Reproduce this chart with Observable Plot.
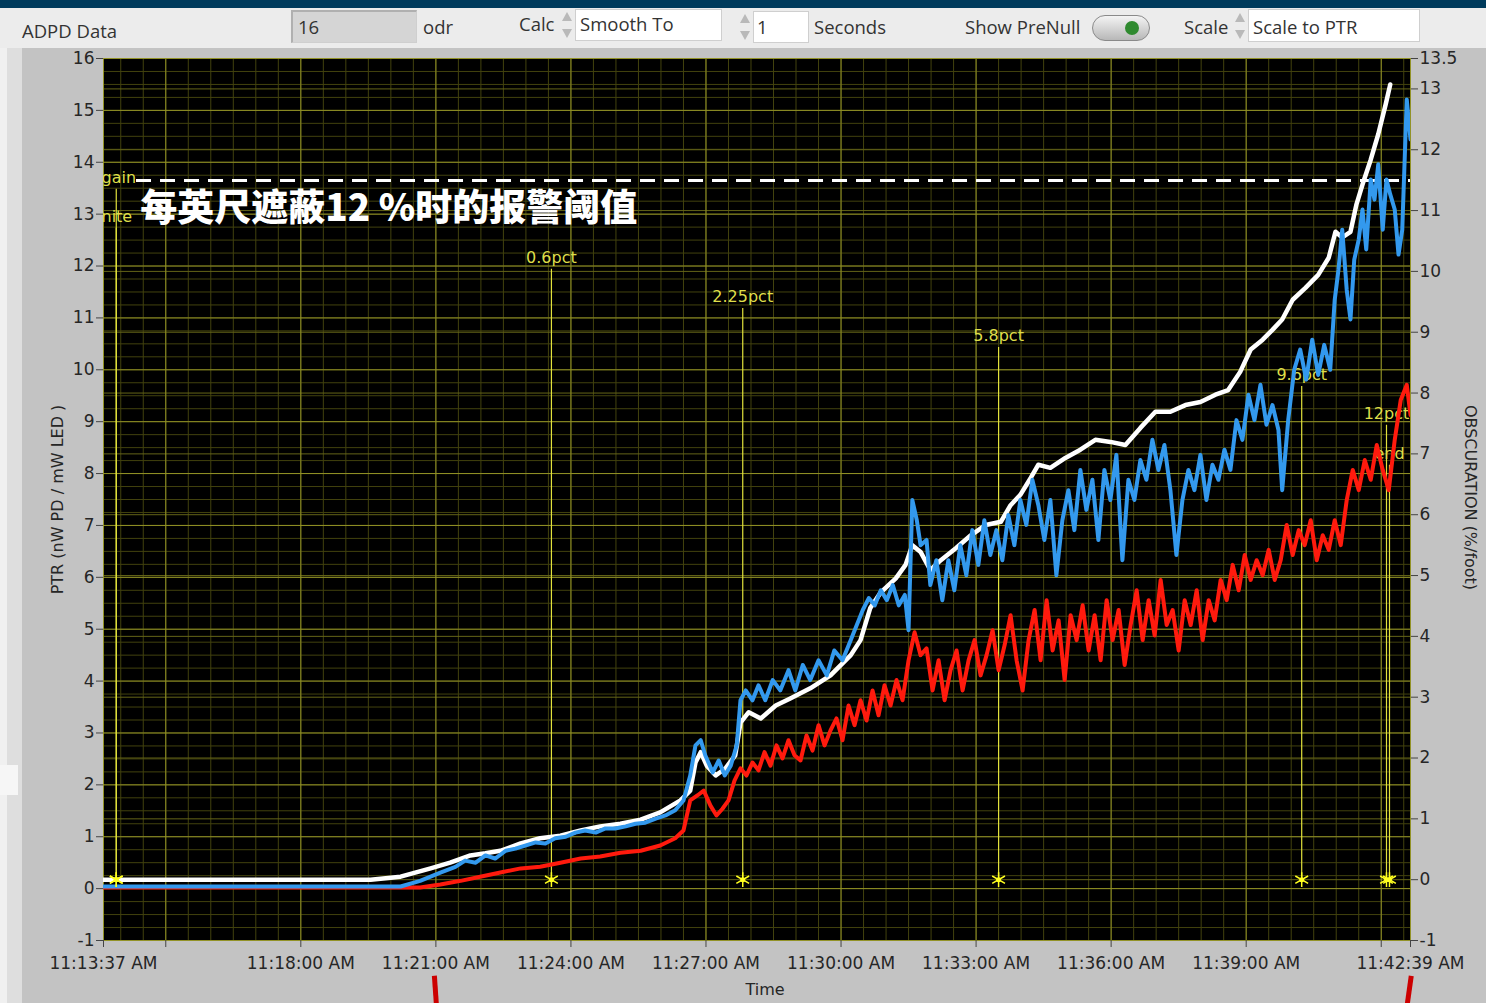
<!DOCTYPE html>
<html>
<head>
<meta charset="utf-8">
<script src="https://cdn.jsdelivr.net/npm/d3@7"></script>
<script src="https://cdn.jsdelivr.net/npm/@observablehq/plot@0.6"></script>
<style>
  body { margin: 0; width: 1486px; height: 1003px; overflow: hidden; background: #c3c3c3; position: relative;
         font-family: "Open Sans", "Noto Sans", sans-serif; }
  #topbar { position: absolute; left: 0; top: 0; width: 1486px; height: 8px; background: #003b5c; }
  #tools { position: absolute; left: 0; top: 8px; width: 1486px; height: 40px; background: #ececec; }
  #side { position: absolute; left: 0; top: 48px; width: 22px; height: 955px;
          background: linear-gradient(to right, #f0f0f0 0 7px, #dedede 7px 22px); }
  #notch { position: absolute; left: 0; top: 765px; width: 18px; height: 30px; background: #f6f6f6; }
  .t { position: absolute; font-size: 18.5px; color: #333; line-height: 1; white-space: nowrap; }
  .box { position: absolute; background: #fff; border: 1px solid #cfcfcf; box-sizing: border-box; }
  .grey { background: #d5d5d5; border-top: 2px solid #b0b0b0; border-left: 2px solid #b0b0b0; }
  .spin { position: absolute; width: 12px; height: 34px; }
  .spin::before, .spin::after { content: ""; position: absolute; left: 1px; width: 0; height: 0;
          border-left: 5px solid transparent; border-right: 5px solid transparent; }
  .spin::before { top: 4px; border-bottom: 9px solid #b9b9b9; }
  .spin::after { bottom: 4px; border-top: 9px solid #b9b9b9; }
  #toggle { position: absolute; left: 1092px; top: 15px; width: 58px; height: 26px; border-radius: 13px;
            background: linear-gradient(#f4f4f4, #b8b8b8); border: 1px solid #8a8a8a; box-sizing: border-box; }
  #toggle::after { content: ""; position: absolute; left: 32px; top: 5px; width: 14px; height: 14px;
            border-radius: 7px; background: #2f8a2f; }
  #chart { position: absolute; left: 0; top: 48px; }
</style>
</head>
<body>
<div id="topbar"></div>
<div id="tools"></div>
<div id="side"></div>
<div id="notch"></div>

<div class="t" style="left:22px;top:22px">ADPD Data</div>
<div class="box grey" style="left:291px;top:10px;width:126px;height:33px"></div>
<div class="t" style="left:298px;top:18px">16</div>
<div class="t" style="left:423px;top:18px">odr</div>
<div class="t" style="left:519px;top:15px">Calc</div>
<div class="spin" style="left:561px;top:8px"></div>
<div class="box" style="left:575px;top:9px;width:147px;height:32px"></div>
<div class="t" style="left:580px;top:15px">Smooth To</div>
<div class="spin" style="left:739px;top:10px"></div>
<div class="box" style="left:753px;top:11px;width:56px;height:32px"></div>
<div class="t" style="left:757px;top:18px">1</div>
<div class="t" style="left:814px;top:18px">Seconds</div>
<div class="t" style="left:965px;top:18px">Show PreNull</div>
<div id="toggle"></div>
<div class="t" style="left:1184px;top:18px">Scale</div>
<div class="spin" style="left:1234px;top:9px"></div>
<div class="box" style="left:1248px;top:9px;width:172px;height:33px"></div>
<div class="t" style="left:1253px;top:18px">Scale to PTR</div>

<div id="chart"></div>

<script>
// ---- recording window (clock time of first and last sample) ----
const startClock = "11:13:37";
const endClock = "11:42:39";

// ---- series: seconds since start, PTR value (nW PD / mW LED) ----
const whiteT = [0, 356, 396, 436, 462, 489, 509, 529, 556, 582, 609, 636, 662, 689, 716, 742, 769, 782, 789, 796,
  804, 816, 829, 842, 849, 860, 876, 896, 916, 942, 969, 996, 1009, 1022, 1036, 1056, 1069, 1078, 1089, 1102,
  1116, 1136, 1156, 1176, 1196, 1209, 1222, 1236, 1246, 1262, 1282, 1302, 1322, 1342, 1362, 1382, 1402, 1422, 1442, 1462,
  1482, 1499, 1515, 1529, 1545, 1558, 1571, 1585, 1602, 1619, 1633, 1642, 1651, 1662, 1670, 1678, 1689, 1699, 1709, 1715];
const whiteV = [0.17, 0.17, 0.23, 0.39, 0.50, 0.64, 0.68, 0.73, 0.87, 0.97, 1.02, 1.12, 1.20, 1.25, 1.33, 1.47, 1.70, 1.89, 2.43, 2.63,
  2.37, 2.18, 2.32, 2.57, 3.20, 3.40, 3.28, 3.53, 3.67, 3.86, 4.11, 4.50, 4.79, 5.41, 5.71, 5.98, 6.24, 6.62, 6.49, 6.14,
  6.33, 6.56, 6.81, 7.01, 7.07, 7.39, 7.59, 7.92, 8.17, 8.11, 8.30, 8.46, 8.65, 8.61, 8.55, 8.88, 9.19, 9.19, 9.32, 9.38,
  9.52, 9.61, 9.96, 10.39, 10.58, 10.77, 10.97, 11.35, 11.58, 11.83, 12.16, 12.66, 12.55, 12.66, 13.19, 13.57, 14.05, 14.54, 15.12, 15.50];

const blueT = [0, 396, 422, 449, 469, 482, 496, 509, 522, 536, 549, 562, 576, 589, 602, 616, 629, 642, 656, 669,
  682, 696, 709, 722, 736, 749, 762, 773, 782, 789, 796, 802, 812, 820, 828, 836, 844, 849, 856, 865,
  873, 882, 892, 902, 913, 922, 932, 942, 953, 964, 974, 985, 996, 1004, 1012, 1020, 1028, 1036, 1044, 1052,
  1060, 1068, 1073, 1078, 1084, 1089, 1097, 1102, 1110, 1118, 1126, 1134, 1142, 1150, 1158, 1166, 1174, 1182, 1190, 1198,
  1206, 1214, 1222, 1230, 1238, 1246, 1254, 1262, 1270, 1278, 1286, 1294, 1302, 1310, 1318, 1326, 1334, 1342, 1350, 1358,
  1366, 1374, 1382, 1390, 1398, 1406, 1414, 1422, 1430, 1438, 1446, 1454, 1462, 1470, 1478, 1486, 1494, 1502, 1510, 1518,
  1526, 1534, 1542, 1550, 1558, 1566, 1571, 1579, 1587, 1595, 1603, 1611, 1619, 1627, 1635, 1641, 1646, 1651, 1657, 1662,
  1667, 1673, 1678, 1683, 1689, 1694, 1699, 1705, 1710, 1715, 1721, 1726, 1731, 1737, 1742];
const blueV = [0.04, 0.04, 0.15, 0.31, 0.42, 0.54, 0.50, 0.64, 0.58, 0.73, 0.77, 0.83, 0.89, 0.87, 0.97, 1.00, 1.08, 1.12, 1.08, 1.16,
  1.16, 1.20, 1.25, 1.27, 1.35, 1.41, 1.51, 1.70, 2.18, 2.76, 2.86, 2.57, 2.24, 2.47, 2.18, 2.37, 2.76, 3.63, 3.82, 3.63,
  3.92, 3.63, 4.02, 3.82, 4.21, 3.82, 4.31, 4.02, 4.40, 4.11, 4.59, 4.40, 4.79, 5.08, 5.37, 5.60, 5.46, 5.75, 5.56, 5.85,
  5.46, 5.66, 4.98, 7.49, 7.10, 6.62, 6.72, 5.85, 6.33, 5.56, 6.33, 5.75, 6.62, 6.04, 6.91, 6.24, 7.10, 6.43, 6.91, 6.33,
  7.20, 6.62, 7.49, 7.01, 7.88, 7.39, 6.72, 7.49, 6.04, 7.10, 7.68, 6.91, 8.07, 7.30, 7.88, 6.72, 8.07, 7.49, 8.36, 6.33,
  7.88, 7.49, 8.26, 7.88, 8.65, 8.07, 8.55, 7.68, 6.43, 7.49, 8.07, 7.68, 8.36, 7.49, 8.17, 7.88, 8.46, 8.07, 9.03, 8.65,
  9.52, 9.03, 9.71, 8.94, 9.32, 8.84, 7.68, 9.03, 10.00, 10.39, 9.81, 10.58, 9.90, 10.48, 10.00, 11.35, 11.93, 12.70, 11.54, 10.97,
  12.12, 12.51, 13.09, 12.32, 13.67, 13.28, 13.96, 12.70, 13.67, 13.38, 13.09, 12.22, 12.70, 15.21, 14.44];

const redT = [0, 422, 449, 476, 502, 529, 556, 582, 609, 636, 662, 689, 716, 742, 762, 773, 782, 792, 800,
  809, 817, 825, 833, 841, 849, 857, 865, 873, 881, 889, 897, 905, 913, 921, 929, 937, 945, 953, 961,
  969, 977, 985, 993, 1001, 1009, 1017, 1025, 1033, 1041, 1049, 1057, 1065, 1073, 1081, 1089, 1097, 1105, 1113, 1121,
  1129, 1137, 1145, 1153, 1161, 1169, 1177, 1185, 1193, 1201, 1209, 1217, 1225, 1233, 1241, 1249, 1257, 1265, 1273, 1281,
  1289, 1297, 1305, 1313, 1321, 1329, 1337, 1345, 1353, 1361, 1369, 1377, 1385, 1393, 1401, 1409, 1417, 1425, 1433, 1441,
  1449, 1457, 1465, 1473, 1481, 1489, 1497, 1505, 1513, 1521, 1529, 1537, 1545, 1553, 1561, 1569, 1577, 1585, 1593, 1601,
  1609, 1617, 1625, 1633, 1641, 1649, 1657, 1665, 1673, 1681, 1689, 1697, 1705, 1713, 1721, 1729, 1737, 1742];
const redV = [0.02, 0.02, 0.08, 0.15, 0.23, 0.31, 0.39, 0.42, 0.50, 0.58, 0.62, 0.69, 0.73, 0.83, 0.97, 1.12, 1.70, 1.80, 1.89,
  1.60, 1.41, 1.54, 1.70, 2.08, 2.32, 2.18, 2.43, 2.28, 2.63, 2.37, 2.76, 2.51, 2.86, 2.57, 2.47, 2.95, 2.66, 3.15, 2.76,
  3.05, 3.28, 2.86, 3.53, 3.15, 3.63, 3.24, 3.82, 3.34, 3.92, 3.53, 4.02, 3.63, 4.40, 4.94, 4.50, 4.63, 3.82, 4.40, 3.63,
  4.21, 4.59, 3.82, 4.40, 4.79, 4.11, 4.50, 4.98, 4.21, 4.69, 5.27, 4.40, 3.82, 4.79, 5.37, 4.40, 5.56, 4.59, 5.17, 4.02,
  5.27, 4.79, 5.46, 4.59, 5.27, 4.40, 5.56, 4.79, 5.37, 4.31, 5.08, 5.75, 4.79, 5.56, 4.88, 5.95, 5.08, 5.37, 4.59, 5.56,
  5.08, 5.75, 4.79, 5.56, 5.17, 5.95, 5.56, 6.24, 5.75, 6.43, 5.95, 6.33, 6.04, 6.53, 5.95, 6.33, 7.01, 6.43, 6.91, 6.62,
  7.10, 6.33, 6.81, 6.53, 7.10, 6.62, 7.49, 8.07, 7.68, 8.26, 7.88, 8.55, 8.07, 7.68, 8.65, 9.42, 9.71, 9.13];

// ---- test events: label, seconds since start, label height (PTR units) ----
const eventNames = ["gain", "nite", "0.6pct", "2.25pct", "5.8pct", "9.6pct", "12pct", "end"];
const eventT = [17, 17, 597, 852, 1193, 1597, 1710, 1714];
const eventLabelY = [13.70, 12.95, 12.16, 11.40, 10.65, 9.90, 9.15, 8.38];

// ---- alarm threshold and annotation ----
const alarmLevel = 13.65;
const alarmStartT = 44;
const alarmText = "每英尺遮蔽12 %时的报警阈值";

// ---- axes ----
const leftTicks = d3.range(-1, 17);                                   // PTR
const rightTicks = [-1, 0, 1, 2, 3, 4, 5, 6, 7, 8, 9, 10, 11, 12, 13, 13.5]; // obscuration %/ft
const timeTicksLabeled = ["11:13:37", "11:18:00", "11:21:00", "11:24:00", "11:27:00", "11:30:00", "11:33:00", "11:36:00", "11:39:00", "11:42:39"];
const timeTicksPlain = ["11:15:00", "11:42:00"];
const pointerClocks = [["11:20:58", "11:21:01"], ["11:42:40", "11:42:34"]];

// ---- helpers ----
const clock = s => { const [h, m, x] = s.split(":").map(Number); return new Date(Date.UTC(2000, 0, 1, h, m, x)); };
const t0 = clock(startClock), t1 = clock(endClock);
const at = s => new Date(+t0 + s * 1000);
const fmt = d3.utcFormat("%-I:%M:%S %p");
// obscuration axis shares the frame with PTR: -1 ↔ -1, 13.5 ↔ 16
const obsToPtr = r => -1 + (r + 1) * 17 / 14.5;
const ptrToObs = p => (p + 1) * 14.5 / 17 - 1;

const mk = (T, V) => T.map((t, i) => ({t: at(t), v: V[i]}));
const white = mk(whiteT, whiteV), blue = mk(blueT, blueV), red = mk(redT, redV);
const events = eventNames.map((n, i) => ({name: n, t: at(eventT[i]), ly: eventLabelY[i]}));
const earlyEvents = events.filter(d => d.t - t0 < 60000);
const laterEvents = events.filter(d => d.t - t0 >= 60000);
const markerY = obsToPtr(0);

const labeledDates = timeTicksLabeled.map(clock);
const labeledSet = new Set(labeledDates.map(Number));
const allTimeTicks = labeledDates.concat(timeTicksPlain.map(clock));

const minorX = d3.utcSecond.every(30).range(t0, t1);
const minorY = d3.range(-1, 16.001, 0.25);
const obsGrid = d3.range(0, 14).map(obsToPtr);

const gridDim = "#42420e", gridMid = "#646418", gridMajor = "#929226";
const axisInk = "#262626";

const chart = Plot.plot({
  width: 1486,
  height: 955,
  marginTop: 10,
  marginBottom: 63,
  marginLeft: 103,
  marginRight: 76,
  style: {background: "transparent", fontFamily: "DejaVu Sans, sans-serif", fontSize: "17px", color: axisInk},
  x: {type: "utc", domain: [t0, t1]},
  y: {domain: [-1, 16]},
  marks: [
    Plot.frame({fill: "black", stroke: "#7d8aa0"}),
    // grid
    Plot.ruleX(minorX, {stroke: gridDim, strokeWidth: 1}),
    Plot.ruleY(minorY, {stroke: gridDim, strokeWidth: 1}),
    Plot.ruleY(obsGrid, {stroke: gridMid, strokeWidth: 1}),
    Plot.ruleY(leftTicks, {stroke: gridMajor, strokeWidth: 1}),
    Plot.ruleX(allTimeTicks, {stroke: gridMajor, strokeWidth: 1}),
    // axes
    Plot.axisY({anchor: "left", ticks: leftTicks, tickFormat: d => `${d}`, tickSize: 7, tickPadding: 2,
                label: null, fontSize: 17, stroke: "#444"}),
    Plot.axisY({anchor: "right", ticks: rightTicks.map(obsToPtr), tickFormat: p => `${+ptrToObs(p).toFixed(2)}`,
                tickSize: 7, tickPadding: 2, label: null, fontSize: 17, stroke: "#444"}),
    Plot.axisX({ticks: allTimeTicks, tickFormat: d => labeledSet.has(+d) ? fmt(d) : "", tickSize: 7, tickPadding: 9,
                label: null, fontSize: 17, stroke: "#444"}),
    Plot.text(["PTR (nW PD / mW LED )"], {frameAnchor: "left", textAnchor: "middle", dx: -46, rotate: -90, fontSize: 16, fill: axisInk}),
    Plot.text(["OBSCURATION (%/foot)"], {frameAnchor: "right", textAnchor: "middle", dx: 60, dy: -2, rotate: 90, fontSize: 16, fill: axisInk}),
    Plot.text(["Time"], {frameAnchor: "bottom", textAnchor: "middle", dx: 8, dy: 54, fontSize: 16, fill: axisInk}),
    // alarm threshold
    Plot.ruleY([alarmLevel], {x1: at(alarmStartT), x2: t1, stroke: "white", strokeWidth: 3, strokeDasharray: "15,9"}),
    // event markers
    Plot.ruleX(events, {x: "t", y1: d => d.ly - 0.22, y2: markerY, stroke: "#e2e23c", strokeWidth: 1.2}),
    Plot.text(laterEvents, {x: "t", y: "ly", text: "name", fill: "#dede4a", fontSize: 16, clip: true}),
    Plot.text(earlyEvents, {x: t0, y: "ly", text: "name", textAnchor: "start", dx: -2, fill: "#dede4a", fontSize: 16, clip: true}),
    // series
    Plot.line(white, {x: "t", y: "v", stroke: "white", strokeWidth: 4.5, clip: true}),
    Plot.line(red, {x: "t", y: "v", stroke: "#ff1a0d", strokeWidth: 4, clip: true}),
    Plot.line(blue, {x: "t", y: "v", stroke: "#3399ee", strokeWidth: 4, clip: true}),
    Plot.dot(events, {x: "t", y: markerY, symbol: "asterisk", r: 7, stroke: "#ffff20", strokeWidth: 1.5}),
    Plot.dot(events, {x: "t", y: markerY, r: 2.5, fill: "#ffff20"}),
    // annotation
    Plot.text([alarmText], {x: at(49), y: 13.09, textAnchor: "start", fill: "white", fontSize: 37, fontWeight: 900,
                            fontFamily: "Noto Sans CJK SC"}),
    Plot.link(pointerClocks, {x1: d => clock(d[0]), x2: d => clock(d[1]), y1: -1.68, y2: -2.3,
                              stroke: "#cc0000", strokeWidth: 5})
  ]
});
document.getElementById("chart").appendChild(chart);
</script>
</body>
</html>
